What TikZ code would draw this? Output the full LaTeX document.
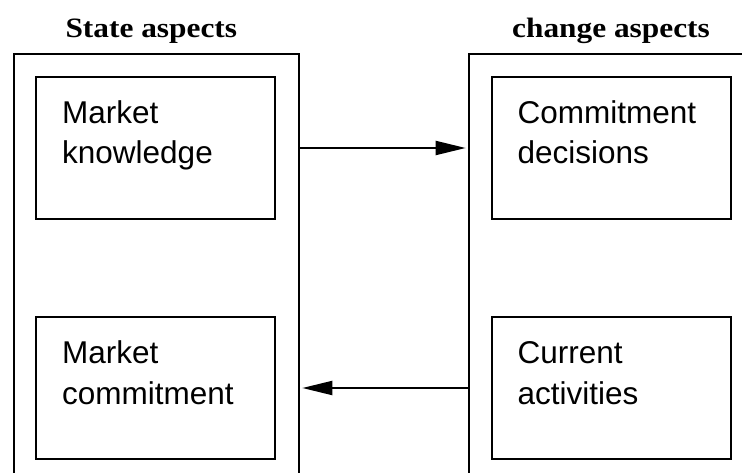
\documentclass[tikz,border=0pt]{standalone}
\usepackage{fontspec}
\setmainfont{Liberation Sans}
\newfontfamily\titlefont{Liberation Serif}
\usetikzlibrary{arrows.meta,calc}
\begin{document}
\begin{tikzpicture}[x=1pt,y=-1pt,
 outerbox/.style={draw,line width=2pt,rectangle,inner sep=0pt,anchor=north west},
 inbox/.style={draw,line width=2pt,rectangle,minimum width=239pt,minimum height=142pt,inner sep=0pt},
 lbl/.style={font=\fontsize{31.5}{40.7}\selectfont,align=left,anchor=base west,inner sep=0pt},
 ttl/.style={font=\titlefont\bfseries\fontsize{28}{30}\selectfont,anchor=base,inner sep=0pt},
 arr/.style={line width=2pt,-{Triangle[length=30pt,width=14pt]},shorten >=2.3pt}]
\useasboundingbox (0,0) rectangle (742,473);
\clip (0,0) rectangle (742,473);
\fill[white] (0,0) rectangle (742,473);
% outer boxes (open at bottom / right)
\node[outerbox,minimum width=285pt,minimum height=460pt] (lo) at (13,53) {};
\node[outerbox,minimum width=300pt,minimum height=460pt] (ro) at (468,53) {};
% titles
\node[ttl] (t1) at (151.3,37.3) {\scalebox{1.12}[1]{State aspects}};
\node[ttl] (t2) at (611,37.3) {\scalebox{1.12}[1]{change aspects}};
% inner boxes
\node[inbox] (mk) at (155.5,148) {};
\node[inbox] (mc) at (155.5,388) {};
\node[inbox] (cd) at (611,148) {};
\node[inbox] (ca) at (611,388) {};
% labels (anchor = baseline of the last line)
\node[lbl] (mkt) at ($(mk.north west)+(27,88)$) {Market\\knowledge};
\node[lbl] (mct) at ($(mc.north west)+(27,88)$) {Market\\commitment};
\node[lbl] (cdt) at ($(cd.north west)+(27,88)$) {Commitment\\decisions};
\node[lbl] (cat) at ($(ca.north west)+(27,88)$) {Current\\activities};
% arrows
\draw[arr] (mk.east -| lo.east) -- (mk.east -| ro.west);
\draw[arr] (ca.west -| ro.west) -- (ca.west -| lo.east);
\end{tikzpicture}
\end{document}
